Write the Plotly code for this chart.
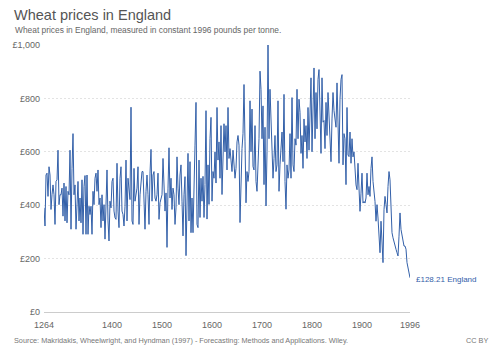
import plotly.graph_objects as go

# ---- data (2-year steps, 1264-1996) ----
prices_1264_1416 = [
    390, 322, 513, 520, 433, 544, 513, 384, 439, 476,
    439, 328, 489, 495, 606, 402, 439, 439, 464, 359,
    483, 341, 470, 334, 452, 439, 606, 310, 538, 668,
    439, 476, 310, 427, 489, 341, 427, 334, 495, 291,
    470, 511, 291, 513, 291, 396, 365, 396, 291, 452,
    402, 501, 520, 452, 532, 402, 427, 316, 439, 341,
    402, 273, 464, 532, 341, 266, 415, 390, 489, 501,
    378, 353, 347, 557, 378, 316, 501,
]
prices_1418_1572 = [
    544, 378, 365, 322, 396, 569, 341, 501, 464, 421,
    767, 341, 328, 538, 415, 439, 464, 544, 328, 439,
    489, 526, 526, 378, 310, 452, 513, 439, 328, 520,
    609, 415, 513, 526, 427, 415, 439, 520, 347, 409,
    427, 439, 575, 464, 378, 446, 242, 464, 615, 427,
    501, 384, 464, 439, 328, 390, 581, 464, 402, 513,
    551, 415, 285, 439, 507, 211, 365, 594, 341, 563,
    297, 427, 297, 427, 625, 785, 328, 316,
]
prices_1574_1728 = [
    569, 354, 501, 415, 508, 354, 477, 754, 348, 551,
    403, 649, 729, 415, 526, 501, 600, 483, 766, 569,
    637, 501, 698, 440, 581, 705, 600, 698, 532, 766,
    575, 612, 569, 526, 606, 545, 501, 538, 637, 661,
    625, 335, 501, 612, 668, 852, 637, 409, 526, 489,
    526, 791, 600, 760, 545, 532, 698, 489, 452, 545,
    649, 902, 834, 649, 772, 477, 692, 397, 600, 1000,
    649, 834, 711, 637, 501, 575, 661, 526,
]
prices_1730_1880 = [
    551, 791, 452, 551, 625, 674, 563, 815, 489, 385,
    551, 501, 532, 668, 501, 803, 551, 526, 649, 625,
    834, 649, 797, 748, 594, 661, 538, 723, 637, 698,
    575, 766, 606, 711, 877, 600, 797, 914, 649, 822,
    686, 871, 908, 772, 594, 877, 711, 717, 612, 785,
    661, 822, 748, 668, 563, 723, 822, 754, 729, 692,
    858, 686, 557, 797, 871, 889, 551, 668, 649, 477,
    766, 588, 582, 674, 557, 649,
]
prices_1882_1996 = [
    581, 600, 507, 476, 458, 557, 464, 377, 445, 520,
    408, 414, 408, 427, 520, 439, 470, 433, 538, 581,
    489, 451, 414, 340, 402, 352, 253, 222, 340, 235,
    185, 383, 433, 402, 371, 470, 526, 495, 402, 297,
    278, 260, 247, 235, 222, 210, 284, 371, 309, 290,
    260, 247, 247, 235, 185, 160, 144, 128.21,
]
prices = (prices_1264_1416 + prices_1418_1572 + prices_1574_1728
          + prices_1730_1880 + prices_1882_1996)
years = list(range(1264, 1997, 2))

x_tick_vals = [1264, 1400, 1500, 1600, 1700, 1800, 1900, 1996]
y_tick_vals = [0, 200, 400, 600, 800, 1000]
y_tick_text = ["£0", "£200", "£400", "£600", "£800", "£1,000"]

series_name = "England"
title_text = "Wheat prices in England"
subtitle_text = "Wheat prices in England, measured in constant 1996 pounds per tonne."
source_text = ("Source: Makridakis, Wheelwright, and Hyndman (1997) - Forecasting: "
               "Methods and Applications. Wiley.")
license_text = "CC BY"

# ---- figure ----
W, H = 500, 353
L, R, T, B = 40, 90, 45, 40.5
pw, ph = W - L - R, H - T - B
FONT = "Liberation Sans, Arial, sans-serif"
BLUE = "#3360a9"


def px(x):
    return (x - L) / pw


def py(y):
    return (H - B - y) / ph


fig = go.Figure()
fig.add_trace(go.Scatter(
    x=years, y=prices, mode="lines", name=series_name,
    line=dict(color=BLUE, width=1), hoverinfo="x+y",
))

fig.update_layout(
    width=W, height=H,
    margin=dict(l=L, r=R, t=T, b=B, pad=0),
    paper_bgcolor="white", plot_bgcolor="white",
    showlegend=False,
    font=dict(family=FONT, size=9, color="#666"),
    xaxis=dict(
        range=[1264, 1996], tickvals=x_tick_vals, ticktext=[str(v) for v in x_tick_vals],
        showgrid=False, zeroline=False, showline=True, linecolor="#ccc", linewidth=1,
        ticks="", ticklabelstandoff=4, tickfont=dict(size=9, color="#666"),
        fixedrange=True,
    ),
    yaxis=dict(
        range=[0, 1000], tickvals=y_tick_vals, ticktext=y_tick_text,
        showgrid=True, gridcolor="#e3e3e3", griddash="2px,2px", gridwidth=1,
        zeroline=False, showline=False, ticks="", ticklabelstandoff=3,
        tickfont=dict(size=9, color="#666"), fixedrange=True,
    ),
)

annos = [
    dict(text=title_text, x=px(8), y=py(14.5), xanchor="left", yanchor="middle",
         font=dict(size=14.5, color="#555", family=FONT)),
    dict(text=subtitle_text, x=px(8.5), y=py(29.5), xanchor="left", yanchor="middle",
         font=dict(size=8.4, color="#666", family=FONT)),
    dict(text=source_text, x=px(8), y=py(341), xanchor="left", yanchor="middle",
         font=dict(size=7.3, color="#777", family=FONT)),
    dict(text=license_text, x=px(491), y=py(341), xanchor="right", yanchor="middle",
         font=dict(size=7.3, color="#777", family=FONT)),
]
for a in annos:
    fig.add_annotation(xref="paper", yref="paper", showarrow=False, **a)

fig.add_annotation(
    x=years[-1], y=prices[-1], xref="x", yref="y", showarrow=False,
    text=f"£{prices[-1]:.2f} {series_name}", xanchor="left", yanchor="middle",
    xshift=4, yshift=-2, font=dict(size=8, color=BLUE, family=FONT),
)

fig.write_html("out.html")
